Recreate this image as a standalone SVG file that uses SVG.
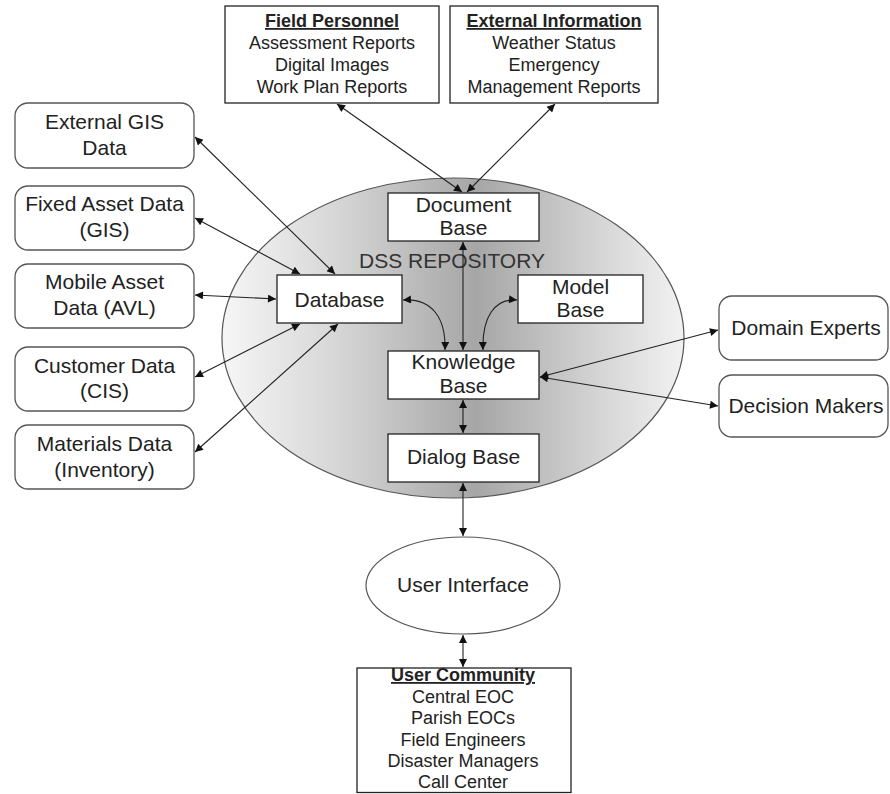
<svg xmlns="http://www.w3.org/2000/svg" width="890" height="794" viewBox="0 0 890 794">
<style>
text{font-family:"Liberation Sans",Arial,sans-serif;fill:#222;text-anchor:middle}
.t18{font-size:18px}
.t21{font-size:21px}
.hd{font-weight:bold;text-decoration:underline}
.box{fill:#fff;stroke:#222;stroke-width:1.3}
.rbox{fill:#fff;stroke:#555;stroke-width:1.3}
.conn{fill:none;stroke:#222;stroke-width:1.1;marker-start:url(#ah);marker-end:url(#ah)}
</style>
<defs>
<linearGradient id="g" x1="0" y1="0" x2="1" y2="0">
<stop offset="0" stop-color="#f6f6f6"/>
<stop offset="0.25" stop-color="#d6d6d6"/>
<stop offset="0.55" stop-color="#a6a6a6"/>
<stop offset="0.8" stop-color="#d2d2d2"/>
<stop offset="1" stop-color="#f2f2f2"/>
</linearGradient>
<marker id="ah" viewBox="0 0 10 10" refX="10" refY="5" markerWidth="10" markerHeight="8" markerUnits="userSpaceOnUse" orient="auto-start-reverse">
<path d="M0,0 L10,5 L0,10 z" fill="#111"/>
</marker>
</defs>
<rect width="890" height="794" fill="#fff"/>

<g id="repository">
<ellipse cx="453" cy="338" rx="231" ry="160" fill="url(#g)" stroke="#555" stroke-width="1.2"/>
<text class="t21" x="452" y="268" style="fill:#333">DSS REPOSITORY</text>
</g>

<g id="connectors">
<line class="conn" x1="337" y1="104" x2="462" y2="192"/>
<line class="conn" x1="555" y1="104" x2="467" y2="192"/>
<line class="conn" x1="195" y1="137" x2="335" y2="274"/>
<line class="conn" x1="195" y1="218" x2="300" y2="274"/>
<line class="conn" x1="195" y1="295" x2="276" y2="299"/>
<line class="conn" x1="195" y1="377" x2="300" y2="324"/>
<line class="conn" x1="195" y1="452" x2="338" y2="324"/>
<path class="conn" d="M403,300 C432,298 446,318 445,350"/>
<path class="conn" d="M517,300 C494,298 482,318 483,350"/>
<line class="conn" x1="463" y1="242" x2="463" y2="350"/>
<line class="conn" x1="463" y1="400" x2="463" y2="433"/>
<line class="conn" x1="463" y1="483" x2="463" y2="536"/>
<line class="conn" x1="463" y1="635" x2="463" y2="667"/>
<line class="conn" x1="540" y1="377" x2="718" y2="330"/>
<line class="conn" x1="540" y1="377" x2="718" y2="406"/>
</g>

<g id="field-personnel">
<rect class="box" x="225" y="6" width="214" height="97"/>
<text class="t18 hd" x="332" y="27">Field Personnel</text>
<text class="t18" x="332" y="49">Assessment Reports</text>
<text class="t18" x="332" y="71">Digital Images</text>
<text class="t18" x="332" y="93">Work Plan Reports</text>
</g>

<g id="external-information">
<rect class="box" x="450" y="6" width="208" height="97"/>
<text class="t18 hd" x="554" y="27">External Information</text>
<text class="t18" x="554" y="49">Weather Status</text>
<text class="t18" x="554" y="71">Emergency</text>
<text class="t18" x="554" y="93">Management Reports</text>
</g>

<g id="external-gis">
<rect class="rbox" x="15" y="103" width="179" height="65" rx="13"/>
<text class="t21" x="104.5" y="129">External GIS</text>
<text class="t21" x="104.5" y="155">Data</text>
</g>
<g id="fixed-asset">
<rect class="rbox" x="15" y="186" width="179" height="64" rx="13"/>
<text class="t21" x="104.5" y="211">Fixed Asset Data</text>
<text class="t21" x="104.5" y="237">(GIS)</text>
</g>
<g id="mobile-asset">
<rect class="rbox" x="15" y="264" width="179" height="64" rx="13"/>
<text class="t21" x="104.5" y="289">Mobile Asset</text>
<text class="t21" x="104.5" y="315">Data (AVL)</text>
</g>
<g id="customer-data">
<rect class="rbox" x="15" y="347" width="179" height="64" rx="13"/>
<text class="t21" x="104.5" y="373">Customer Data</text>
<text class="t21" x="104.5" y="398">(CIS)</text>
</g>
<g id="materials-data">
<rect class="rbox" x="15" y="425" width="179" height="64" rx="13"/>
<text class="t21" x="104.5" y="451">Materials Data</text>
<text class="t21" x="104.5" y="477">(Inventory)</text>
</g>

<g id="document-base">
<rect class="box" x="388" y="193" width="151" height="48"/>
<text class="t21" x="463.5" y="212">Document</text>
<text class="t21" x="463.5" y="235">Base</text>
</g>
<g id="database">
<rect class="box" x="277" y="275" width="125" height="48"/>
<text class="t21" x="339.5" y="307">Database</text>
</g>
<g id="model-base">
<rect class="box" x="518" y="275" width="125" height="48"/>
<text class="t21" x="580.5" y="294">Model</text>
<text class="t21" x="580.5" y="317">Base</text>
</g>
<g id="knowledge-base">
<rect class="box" x="388" y="351" width="151" height="48"/>
<text class="t21" x="463.5" y="369">Knowledge</text>
<text class="t21" x="463.5" y="393">Base</text>
</g>
<g id="dialog-base">
<rect class="box" x="388" y="434" width="151" height="48"/>
<text class="t21" x="463.5" y="464">Dialog Base</text>
</g>

<g id="domain-experts">
<rect class="rbox" x="719" y="296" width="169" height="64" rx="13"/>
<text class="t21" x="806" y="335">Domain Experts</text>
</g>
<g id="decision-makers">
<rect class="rbox" x="719" y="375" width="169" height="62" rx="13"/>
<text class="t21" x="806" y="413">Decision Makers</text>
</g>

<g id="user-interface">
<ellipse cx="463" cy="585.5" rx="97" ry="48.5" fill="#fff" stroke="#555" stroke-width="1.2"/>
<text class="t21" x="463" y="592">User Interface</text>
</g>

<g id="user-community">
<rect class="box" x="357" y="668" width="214" height="124.5"/>
<text class="t18 hd" x="463" y="681">User Community</text>
<text class="t18" x="463" y="702.5">Central EOC</text>
<text class="t18" x="463" y="724">Parish EOCs</text>
<text class="t18" x="463" y="745.5">Field Engineers</text>
<text class="t18" x="463" y="767">Disaster Managers</text>
<text class="t18" x="463" y="788">Call Center</text>
</g>
</svg>
